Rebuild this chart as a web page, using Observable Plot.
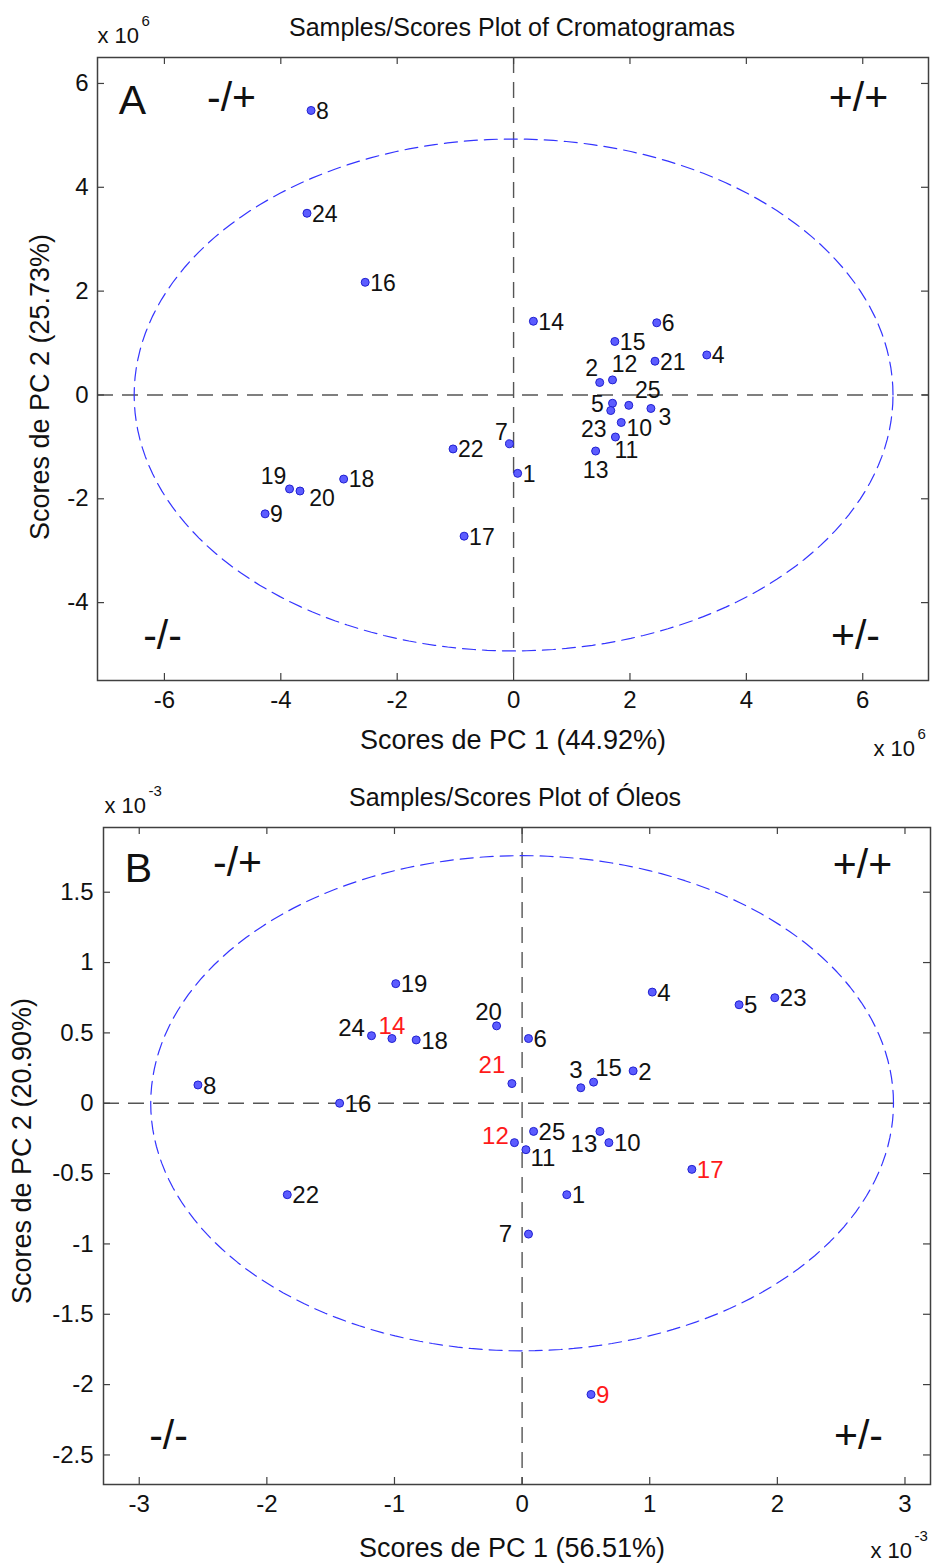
<!DOCTYPE html>
<html>
<head>
<meta charset="utf-8">
<script src="https://cdn.jsdelivr.net/npm/d3@7"></script>
<script src="https://cdn.jsdelivr.net/npm/@observablehq/plot@0.6"></script>
<style>
  html, body { margin: 0; padding: 0; background: #fff; }
  #chart svg { display: block; }
</style>
</head>
<body>
<div id="chart"></div>
<script>
// ---------------- Panel A: Cromatogramas (scores x 10^6) ----------------
const samplesA = ["1","2","3","4","5","6","7","8","9","10","11","12","13","14","15","16","17","18","19","20","21","22","23","24","25"];
const pc1A = [0.07, 1.48, 2.36, 3.32, 1.70, 2.46, -0.07, -3.48, -4.27, 1.85, 1.75, 1.70, 1.41, 0.34, 1.74, -2.55, -0.85, -2.92, -3.85, -3.67, 2.43, -1.04, 1.67, -3.55, 1.98];
const pc2A = [-1.51, 0.24, -0.26, 0.77, -0.16, 1.39, -0.94, 5.48, -2.29, -0.53, -0.81, 0.29, -1.08, 1.42, 1.03, 2.17, -2.72, -1.62, -1.81, -1.85, 0.65, -1.04, -0.30, 3.50, -0.20];
const xTicksA = [-6, -4, -2, 0, 2, 4, 6];
const yTicksA = [-4, -2, 0, 2, 4, 6];
const ellipseA = { rx: 6.52, ry: 4.93 };
const titleA = "Samples/Scores Plot of Cromatogramas";
const xLabelA = "Scores de PC 1 (44.92%)";
const yLabelA = "Scores de PC 2 (25.73%)";
const expA = "6";

// ---------------- Panel B: Óleos (scores x 10^-3) ----------------
const samplesB = ["1","2","3","4","5","6","7","8","9","10","11","12","13","14","15","16","17","18","19","20","21","22","23","24","25"];
const pc1B = [0.35, 0.87, 0.46, 1.02, 1.70, 0.05, 0.05, -2.54, 0.54, 0.68, 0.03, -0.06, 0.61, -1.02, 0.56, -1.43, 1.33, -0.83, -0.99, -0.20, -0.08, -1.84, 1.98, -1.18, 0.09];
const pc2B = [-0.65, 0.23, 0.11, 0.79, 0.70, 0.46, -0.93, 0.13, -2.07, -0.28, -0.33, -0.28, -0.20, 0.46, 0.15, 0.00, -0.47, 0.45, 0.85, 0.55, 0.14, -0.65, 0.75, 0.48, -0.20];
const highlightB = ["9", "12", "14", "17", "21"];
const xTicksB = [-3, -2, -1, 0, 1, 2, 3];
const yTicksB = [-2.5, -2, -1.5, -1, -0.5, 0, 0.5, 1, 1.5];
const ellipseB = { rx: 2.91, ry: 1.76 };
const titleB = "Samples/Scores Plot of Óleos";
const xLabelB = "Scores de PC 1 (56.51%)";
const yLabelB = "Scores de PC 2 (20.90%)";
const expB = "-3";

// ---------------- label placement (layout only, pixels) ----------------
// "r" = label to the right of the point; [dx, dy] = centred label offset
const nudgeA = ["r", [-8,-14], [14,9], "r", [-15,1], "r", [-8,-11], "r", "r", [18,6], [11,14], [12,-15], [0,20], "r", "r", "r", "r", "r", [-16,-12], [22,8], "r", "r", [-17,19], "r", [19,-15]];
const nudgeB = ["r", "r", [-5,-17], "r", "r", "r", [-23,0], "r", "r", "r", [17,9], [-19,-6], [-16,13], [0,-12], [15,-14], "r", "r", "r", "r", [-8,-14], [-20,-18], "r", "r", [-20,-7], "r"];

const FONT = "'Liberation Sans', Arial, Helvetica, sans-serif";
const BLUE_FILL = "#5c5cff";
const BLUE_STROKE = "#2020d0";
const ELLIPSE = "#3434ff";
const FRAME = "#404040";

function ellipsePts(e) {
  return d3.range(0, 361, 2).map(a => ({ x: e.rx * Math.cos(a * Math.PI / 180), y: e.ry * Math.sin(a * Math.PI / 180) }));
}

function note(txt, frameAnchor, dx, dy, fontSize, extra = {}) {
  return Plot.text([txt], { text: d => d, frameAnchor, dx, dy, fontSize, textAnchor: "middle", lineAnchor: "middle", ...extra });
}

function panel(cfg) {
  const rows = cfg.samples.map((s, i) => ({ s, x: cfg.pc1[i], y: cfg.pc2[i], nudge: cfg.nudge[i], red: cfg.highlight.includes(s) }));
  const fh = cfg.height - cfg.mt - cfg.mb;
  const fw = cfg.width - cfg.ml - cfg.mr;
  const labelMarks = rows.map(r => {
    const right = r.nudge === "r";
    return Plot.text([r], {
      x: "x", y: "y", text: "s",
      dx: right ? 5 : r.nudge[0], dy: right ? 1 : r.nudge[1],
      textAnchor: right ? "start" : "middle",
      lineAnchor: "middle",
      fill: r.red ? "#ff1a1a" : "#111",
      fontSize: cfg.labelSize
    });
  });
  const a = cfg.ann;
  return Plot.plot({
    width: cfg.width, height: cfg.height,
    marginTop: cfg.mt, marginBottom: cfg.mb, marginLeft: cfg.ml, marginRight: cfg.mr,
    style: { fontFamily: FONT, fontSize: "20px", color: "#111", background: "#fff", overflow: "visible" },
    x: { domain: cfg.xDomain, label: null },
    y: { domain: cfg.yDomain, label: null },
    marks: [
      // zero lines
      Plot.ruleX([0], { stroke: "#555", strokeWidth: 1.4, strokeDasharray: "16,9" }),
      Plot.ruleY([0], { stroke: "#555", strokeWidth: 1.4, strokeDasharray: "16,9" }),
      // confidence ellipse
      Plot.line(ellipsePts(cfg.ellipse), { x: "x", y: "y", stroke: ELLIPSE, strokeWidth: 1.2, strokeDasharray: "13,7" }),
      // inward ticks on all four sides
      Plot.tickX(cfg.xTicks, { x: d => d, insetTop: fh - 7, stroke: FRAME, strokeWidth: 1.2 }),
      Plot.tickX(cfg.xTicks, { x: d => d, insetBottom: fh - 7, stroke: FRAME, strokeWidth: 1.2 }),
      Plot.tickY(cfg.yTicks, { y: d => d, insetRight: fw - 7, stroke: FRAME, strokeWidth: 1.2 }),
      Plot.tickY(cfg.yTicks, { y: d => d, insetLeft: fw - 7, stroke: FRAME, strokeWidth: 1.2 }),
      Plot.axisX({ ticks: cfg.xTicks, tickSize: 0, tickPadding: cfg.xPad, tickFormat: d => String(d), fontSize: 24, label: null }),
      Plot.axisY({ ticks: cfg.yTicks, tickSize: 0, tickPadding: cfg.yPad, tickFormat: d => String(d), fontSize: 24, label: null }),
      Plot.frame({ stroke: FRAME, strokeWidth: 1.5 }),
      // points and labels
      Plot.dot(rows, { x: "x", y: "y", r: 4, fill: BLUE_FILL, stroke: BLUE_STROKE, strokeWidth: 1 }),
      ...labelMarks,
      // titles
      note(cfg.title, "top", a.title[0], a.title[1], 25),
      note(cfg.xLabel, "bottom", a.xl[0], a.xl[1], 27),
      note(cfg.yLabel, "left", a.yl[0], a.yl[1], 27, { rotate: -90 }),
      // exponent markers
      note("x 10", "top-left", a.e1[0], a.e1[1], 22, { textAnchor: "start" }),
      note(cfg.exp, "top-left", a.e1[0] + 44, a.e1[1] - 14, 15, { textAnchor: "start" }),
      note("x 10", "bottom-right", a.e2[0], a.e2[1], 22, { textAnchor: "start" }),
      note(cfg.exp, "bottom-right", a.e2[0] + 44, a.e2[1] - 14, 15, { textAnchor: "start" }),
      // panel letter and quadrant signs
      note(cfg.letter, "top-left", a.letter[0], a.letter[1], 41),
      note("-/+", "top-left", a.q1[0], a.q1[1], 41),
      note("+/+", "top-right", a.q2[0], a.q2[1], 41),
      note("-/-", "bottom-left", a.q3[0], a.q3[1], 41),
      note("+/-", "bottom-right", a.q4[0], a.q4[1], 41)
    ]
  });
}

const figA = panel({
  samples: samplesA, pc1: pc1A, pc2: pc2A, nudge: nudgeA, highlight: [],
  xTicks: xTicksA, yTicks: yTicksA, ellipse: ellipseA,
  title: titleA, xLabel: xLabelA, yLabel: yLabelA, exp: expA, letter: "A",
  width: 934, height: 775, mt: 57, mb: 95, ml: 97, mr: 6,
  xDomain: [-7.15, 7.13], yDomain: [-5.5, 6.5],
  xPad: 10, yPad: 9, labelSize: 23,
  ann: { title: [-1, -30], xl: [0, 60], yl: [-57, 18], e1: [0, -22], e2: [-55, 68],
         letter: [35, 43], q1: [134, 40], q2: [-70, 40], q3: [65, -45], q4: [-73, -45] }
});

const figB = panel({
  samples: samplesB, pc1: pc1B, pc2: pc2B, nudge: nudgeB, highlight: highlightB,
  xTicks: xTicksB, yTicks: yTicksB, ellipse: ellipseB,
  title: titleB, xLabel: xLabelB, yLabel: yLabelB, exp: expB, letter: "B",
  width: 934, height: 789, mt: 52, mb: 80, ml: 103, mr: 4,
  xDomain: [-3.28, 3.2], yDomain: [-2.71, 1.96],
  xPad: 10, yPad: 10, labelSize: 24,
  ann: { title: [-2, -30], xl: [-5, 64], yl: [-81, -5], e1: [1, -22], e2: [-60, 66],
         letter: [35, 41], q1: [134, 35], q2: [-68, 37], q3: [65, -49], q4: [-72, -49] }
});

document.getElementById("chart").append(figA, figB);
</script>
</body>
</html>
